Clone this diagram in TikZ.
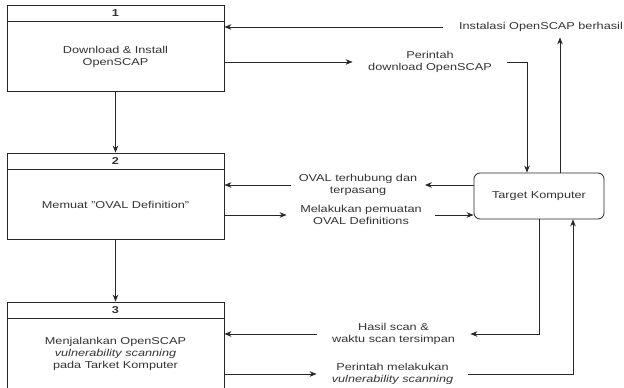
\documentclass[tikz,border=0pt]{standalone}
\usepackage{fontspec}
\setmainfont{Liberation Sans}[FakeStretch=1.27]
\usetikzlibrary{positioning, calc, arrows.meta}

\begin{document}
\begin{tikzpicture}[x=1pt, y=-1pt, >={Stealth[length=7pt,width=5.5pt]},
    color=black!85, line width=0.8pt,
    every node/.style={font=\fontsize{10}{12}\selectfont, text=black!80},
    hdr/.style={rectangle, draw, minimum width=217pt, minimum height=16pt,
    inner sep=0pt, font=\fontsize{10}{12}\selectfont\bfseries},
    proc/.style={rectangle, draw, minimum width=217pt, minimum height=70pt,
    inner sep=0pt, align=center},
    sys/.style={rectangle, draw, rounded corners=6pt, minimum width=130pt,
    minimum height=46pt},
    msg/.style={inner sep=0pt, align=center, minimum height=20pt}]

  \useasboundingbox (0,0) rectangle (624,388);

  \node[hdr] (h1) at (115.5,13) {1};
  \node[proc, below=0pt of h1] (b1) {Download \& Install\\OpenSCAP};
  \node[hdr] (h2) at (115.5,161) {2};
  \node[proc, below=0pt of h2] (b2) {Memuat "OVAL Definition"};
  \node[hdr] (h3) at (115.5,310) {3};
  \node[proc, below=0pt of h3] (b3) {Menjalankan OpenSCAP\\\textit{vulnerability scanning}\\pada Tarket Komputer};
  \node[sys] (tgt) at (539,196) {Target Komputer};

  \node[msg, minimum width=196pt] (inst) at (541,27) {Instalasi OpenSCAP berhasil};
  \node[msg, minimum width=154pt, minimum height=28pt] (dl) at (430,62) {Perintah\\download OpenSCAP};
  \node[msg, minimum width=133pt] (ovl) at (358,185) {OVAL terhubung dan\\terpasang};
  \node[msg, minimum width=148pt] (muat) at (361,215) {Melakukan pemuatan\\OVAL Definitions};
  \node[msg, minimum width=153pt] (hasil) at (393.5,334) {Hasil scan \&\\waktu scan tersimpan};
  \node[msg, minimum width=151pt] (scan) at (392.5,374) {Perintah melakukan\\\textit{vulnerability scanning}};

  \draw[->] (b1) -- (h2);
  \draw[->] (b2) -- (h3);
  \draw[->] ([xshift=21pt]tgt.north) -- ([xshift=21pt]tgt.north |- inst.south);
  \draw[->] (inst.west) -- (inst.west -| b1.east);
  \draw[->] (b1.east |- dl.west) -- (dl.west);
  \draw[->] (dl.east) -| ([xshift=-12pt]tgt.north);
  \draw[->] (tgt.west |- ovl.east) -- (ovl.east);
  \draw[->] (ovl.west) -- (ovl.west -| b2.east);
  \draw[->] (b2.east |- muat.west) -- (muat.west);
  \draw[->] (muat.east) -- (muat.east -| tgt.west);
  \draw[->] (tgt.south) |- (hasil.east);
  \draw[->] (hasil.west) -- (hasil.west -| b3.east);
  \draw[->] (b3.east |- scan.west) -- (scan.west);
  \draw[->] (scan.east) -| ([xshift=34pt]tgt.south);
\end{tikzpicture}
\end{document}
